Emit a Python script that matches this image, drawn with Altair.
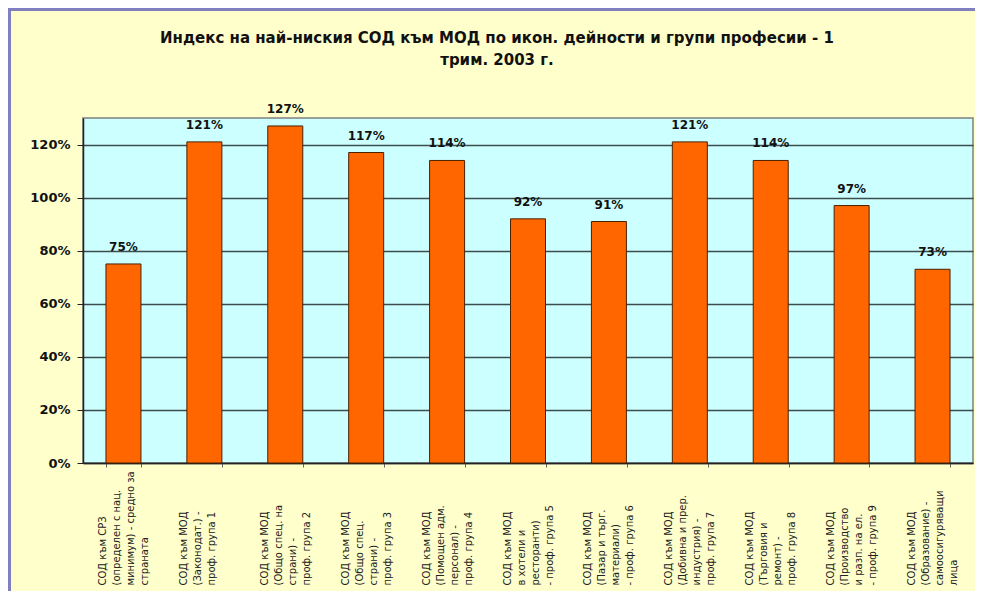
import altair as alt
import pandas as pd

categories = [
    "СОД към СРЗ\n(определен с нац.\nминимум) - средно за\nстраната",
    "СОД към МОД\n(Законодат.) -\nпроф. група 1",
    "СОД към МОД\n(Общо спец. на\nстрани) -\nпроф. група 2",
    "СОД към МОД\n(Общо спец.\nстрани) -\nпроф. група 3",
    "СОД към МОД\n(Помощен адм.\nперсонал) -\nпроф. група 4",
    "СОД към МОД\nв хотели и\nресторанти)\n- проф. група 5",
    "СОД към МОД\n(Пазар и търг.\nматериали)\n- проф. група 6",
    "СОД към МОД\n(Добивна и прер.\nиндустрия) -\nпроф. група 7",
    "СОД към МОД\n(Търговия и\nремонт) -\nпроф. група 8",
    "СОД към МОД\n(Производство\nи разп. на ел.\n- проф. група 9",
    "СОД към МОД\n(Образование) -\nсамоосигуряващи\nлица",
]
values = [0.75, 1.21, 1.27, 1.17, 1.14, 0.92, 0.91, 1.21, 1.14, 0.97, 0.73]
y_ticks = [0, 0.2, 0.4, 0.6, 0.8, 1.0, 1.2]
title_text = "Индекс на най-ниския СОД към МОД по икон. дейности и групи професии - 1\nтрим. 2003 г."

df = pd.DataFrame({"cat": categories, "val": values})

W, H = 890, 345

x_enc = alt.X(
    "cat:N",
    sort=categories,
    title=None,
    scale=alt.Scale(paddingInner=0.56, paddingOuter=0.28),
    axis=alt.Axis(
        labelAngle=270,
        labelAlign="left",
        labelBaseline="middle",
        labelExpr="split(datum.label, '\\n')",
        labelFont="DejaVu Sans",
        labelFontSize=10,
        labelLineHeight=14,
        labelColor="#222222",
        labelPadding=118,
        labelOffset=-21,
        labelLimit=200,
        tickBand="extent",
        tickSize=4,
        tickColor="#666666",
        domainColor="#222222",
        domainWidth=1.5,
        labelOverlap=False,
    ),
)
y_enc = alt.Y(
    "val:Q",
    title=None,
    scale=alt.Scale(domain=[0, 1.3], nice=False),
    axis=alt.Axis(
        values=y_ticks,
        format=".0%",
        labelFont="DejaVu Sans",
        labelFontWeight="bold",
        labelFontSize=13,
        labelColor="#111111",
        labelPadding=7,
        tickSize=6,
        tickColor="#222222",
        domainColor="#222222",
        domainWidth=1.5,
        grid=True,
        gridColor="#3d4d4d",
        gridWidth=1.6,
    ),
)

bars = alt.Chart(df).mark_bar(
    color="#FF6600", stroke="#4a2000", strokeWidth=1, size=35
).encode(x=x_enc, y=y_enc)

labels = alt.Chart(df).mark_text(
    font="DejaVu Sans", fontWeight="bold", fontSize=12, color="#111111",
    baseline="bottom", dy=-10
).encode(
    x=alt.X("cat:N", sort=categories),
    y=alt.Y("val:Q"),
    text=alt.Text("val:Q", format=".0%"),
)

one = pd.DataFrame({"a": [0]})
title = alt.Chart(one).mark_text(
    font="DejaVu Sans", fontWeight="bold", fontSize=15, color="#111111",
    align="center", baseline="alphabetic", lineBreak="\n", lineHeight=22
).encode(x=alt.value(414), y=alt.value(-75), text=alt.value(title_text))

left_border = alt.Chart(one).mark_rule(color="#8080C0", strokeWidth=3).encode(
    x=alt.value(-73.5), y=alt.value(-110), y2=alt.value(473)
)
top_border = alt.Chart(one).mark_rule(color="#8080C0", strokeWidth=3).encode(
    x=alt.value(-75), x2=alt.value(W + 2), y=alt.value(-108.5)
)

chart = alt.layer(bars, labels, title, left_border, top_border).properties(
    width=W,
    height=H,
    autosize=alt.AutoSizeParams(type="none"),
    padding={"left": 75, "top": 110, "right": 2, "bottom": 128},
    background="#FFFFCC",
).configure_view(
    fill="#CCFFFF", stroke="#808080", strokeWidth=1.5
)

chart.save("out.html", embed_options={"renderer": "svg", "actions": False})
